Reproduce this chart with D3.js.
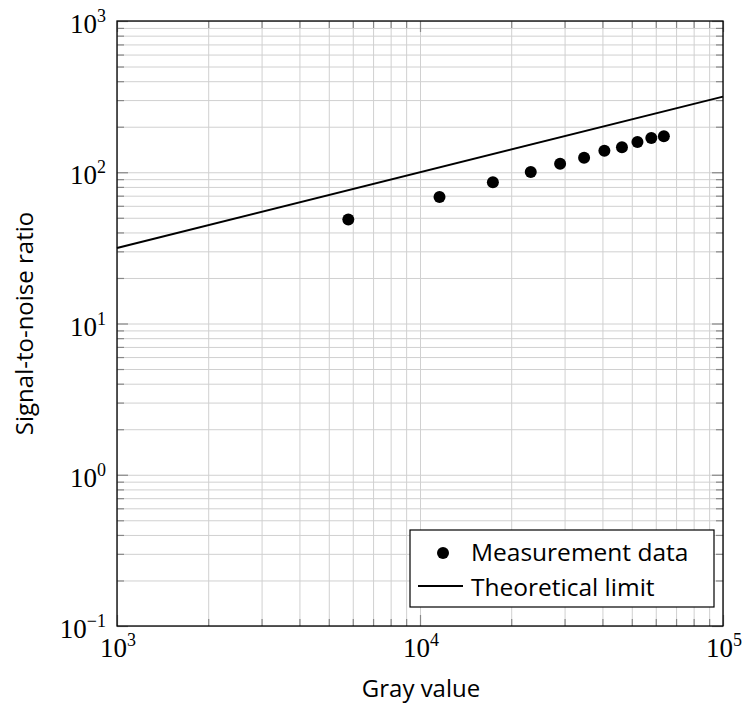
<!DOCTYPE html>
<html>
<head>
<meta charset="utf-8">
<script src="https://cdn.jsdelivr.net/npm/d3@7"></script>
<style>
  html, body { margin: 0; padding: 0; background: #fff; }
  svg { display: block; }
</style>
</head>
<body>
<svg id="chart" width="743" height="707"></svg>
<script>
// ---- Data ----
const grayValues = [5800, 11600, 17400, 23200, 29000, 34800, 40600, 46400, 52200, 58000, 63800];
const snrValues  = [48.7, 68.6, 85.8, 100.4, 113.9, 124.8, 138.8, 146.2, 158.5, 168.4, 172.8];
const limitGray  = [1000, 100000];
const limitSnr   = [31.6, 316.2];
const xTickExponents = [3, 4, 5];
const yTickExponents = [-1, 0, 1, 2, 3];
const legendLabels = ["Measurement data", "Theoretical limit"];
const xTitle = "Gray value";
const yTitle = "Signal-to-noise ratio";

// ---- Layout ----
const W = 743, H = 707;
const m = { left: 117, top: 21, right: 20, bottom: 81 };
const iw = W - m.left - m.right;   // 606
const ih = H - m.top - m.bottom;   // 605

const svg = d3.select("#chart");
const g = svg.append("g").attr("transform", `translate(${m.left},${m.top})`);

const x = d3.scaleLog().domain([1e3, 1e5]).range([0, iw]);
const y = d3.scaleLog().domain([1e-1, 1e3]).range([ih, 0]);

function minorVals(lo, hi) {
  const out = [];
  for (let e = lo; e < hi; e++) {
    for (let k = 1; k <= 9; k++) out.push(k * Math.pow(10, e));
  }
  out.push(Math.pow(10, hi));
  return out;
}
const xAll = minorVals(3, 5);
const yAll = minorVals(-1, 3);
const isMajor = v => Math.abs(Math.log10(v) - Math.round(Math.log10(v))) < 1e-9;

const gridColor = "#d0d0d0";
const tickColor = "#888";

// grid lines via axes
g.append("g").attr("class", "xgrid")
  .attr("transform", `translate(0,${ih})`)
  .call(d3.axisBottom(x).tickValues(xAll).tickSize(-ih).tickFormat(""))
  .call(s => s.select(".domain").remove())
  .call(s => s.selectAll("line").attr("stroke", gridColor).attr("stroke-width", 1));

g.append("g").attr("class", "ygrid")
  .call(d3.axisLeft(y).tickValues(yAll).tickSize(-iw).tickFormat(""))
  .call(s => s.select(".domain").remove())
  .call(s => s.selectAll("line").attr("stroke", gridColor).attr("stroke-width", 1));

// inner ticks (all four sides)
function styleTicks(s) {
  s.select(".domain").remove();
  s.selectAll("line").attr("stroke", tickColor).attr("stroke-width", 1.2);
}
const minorLen = 7, majorLen = 11;
const xMinor = xAll.filter(v => !isMajor(v)), xMajor = xAll.filter(isMajor);
const yMinor = yAll.filter(v => !isMajor(v)), yMajor = yAll.filter(isMajor);

[[xMinor, minorLen], [xMajor, majorLen]].forEach(([vals, len]) => {
  g.append("g").attr("transform", `translate(0,${ih})`)
    .call(d3.axisBottom(x).tickValues(vals).tickSize(-len).tickFormat("")).call(styleTicks);
  g.append("g")
    .call(d3.axisTop(x).tickValues(vals).tickSize(-len).tickFormat("")).call(styleTicks);
});
[[yMinor, minorLen], [yMajor, majorLen]].forEach(([vals, len]) => {
  g.append("g")
    .call(d3.axisLeft(y).tickValues(vals).tickSize(-len).tickFormat("")).call(styleTicks);
  g.append("g").attr("transform", `translate(${iw},0)`)
    .call(d3.axisRight(y).tickValues(vals).tickSize(-len).tickFormat("")).call(styleTicks);
});

// frame
g.append("rect").attr("x", 0).attr("y", 0).attr("width", iw).attr("height", ih)
  .attr("fill", "none").attr("stroke", "#000").attr("stroke-width", 1.3);

// tick labels
const labelFont = "'Liberation Serif', 'DejaVu Serif', serif";
function powLabel(sel, e) {
  sel.append("tspan").text("10");
  sel.append("tspan").attr("font-size", 18).attr("dy", -11)
    .text(e < 0 ? "\u2212" + Math.abs(e) : String(e));
}
xTickExponents.forEach(e => {
  const t = g.append("text")
    .attr("x", x(Math.pow(10, e)) + 1).attr("y", ih + 31)
    .attr("text-anchor", "middle")
    .attr("font-family", labelFont).attr("font-size", 27).attr("fill", "#000");
  powLabel(t, e);
});
yTickExponents.forEach(e => {
  const t = g.append("text")
    .attr("x", -11).attr("y", y(Math.pow(10, e)) + 12)
    .attr("text-anchor", "end")
    .attr("font-family", labelFont).attr("font-size", 27).attr("fill", "#000");
  powLabel(t, e);
});

// axis titles
const sans = "'Open Sans', 'Noto Sans', sans-serif";
svg.append("text")
  .attr("x", m.left + iw / 2 + 1).attr("y", 697)
  .attr("text-anchor", "middle")
  .attr("font-family", sans).attr("font-size", 24).attr("fill", "#000")
  .text(xTitle);
svg.append("text")
  .attr("transform", `translate(33,${m.top + ih / 2}) rotate(-90)`)
  .attr("text-anchor", "middle")
  .attr("font-family", sans).attr("font-size", 24).attr("fill", "#000")
  .text(yTitle);

// theoretical limit line
const line = d3.line().x(d => x(d[0])).y(d => y(d[1]));
g.append("path")
  .datum(limitGray.map((v, i) => [v, limitSnr[i]]))
  .attr("d", line)
  .attr("fill", "none").attr("stroke", "#000").attr("stroke-width", 2);

// measurement points
g.selectAll("circle.pt")
  .data(grayValues.map((v, i) => [v, snrValues[i]]))
  .join("circle").attr("class", "pt")
  .attr("cx", d => x(d[0])).attr("cy", d => y(d[1]))
  .attr("r", 6).attr("fill", "#000");

// legend
const lg = svg.append("g");
lg.append("rect").attr("x", 410).attr("y", 530).attr("width", 304).attr("height", 77)
  .attr("fill", "#fff").attr("stroke", "#000").attr("stroke-width", 1.2);
lg.append("circle").attr("cx", 443).attr("cy", 553).attr("r", 6).attr("fill", "#000");
lg.append("line").attr("x1", 418).attr("x2", 463).attr("y1", 586).attr("y2", 586)
  .attr("stroke", "#000").attr("stroke-width", 2);
legendLabels.forEach((t, i) => {
  lg.append("text").attr("x", 471).attr("y", 561 + i * 35)
    .attr("font-family", sans).attr("font-size", 24.5).attr("fill", "#000").text(t);
});
</script>
</body>
</html>
